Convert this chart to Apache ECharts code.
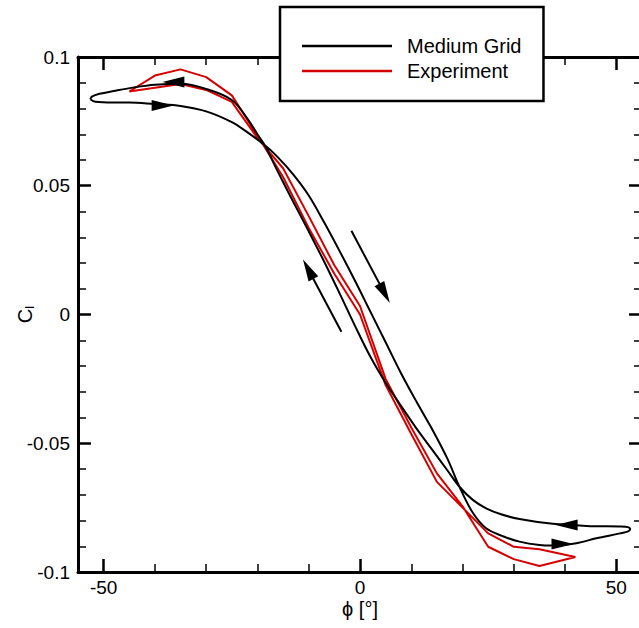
<!DOCTYPE html>
<html>
<head>
<meta charset="utf-8">
<script src="https://cdn.jsdelivr.net/npm/echarts@6/dist/echarts.min.js"></script>
<style>
html,body{margin:0;padding:0;background:#fff;}
#chart{width:639px;height:628px;}
</style>
</head>
<body>
<div id="chart"></div>
<script>
// ---- tick values ----
const phiMajorTicks = [-50, 0, 50];
const phiMinorTicks = [-40, -30, -20, -10, 10, 20, 30, 40];

// ---- Medium Grid hysteresis loop (phi [deg], Cl), traversal order ----
const mediumPhi = [
  -52.6, -51.6, -48.2, -45, -40, -35, -30, -25, -22, -18.6,
  -16, -13, -10, -7, -4, -1, 2, 5, 8, 11, 14, 17, 19.4,
  22, 24.6, 28, 31.1, 35, 37.6, 42.2, 46.1, 50.7, 52.3, 52.7,
  51.8, 50.7, 44.2, 37.6, 31.1, 27.5, 24.6, 22, 19.4,
  17, 14, 11, 8, 5, 2, -1, -4, -7, -10, -13, -16, -18.6,
  -20, -22, -25, -30, -35, -40, -44, -48, -50.8, -52.3, -52.6
];
const mediumCl = [
  0.0836, 0.0826, 0.0823, 0.0823, 0.0817, 0.0810, 0.0789, 0.0747, 0.0708, 0.0658,
  0.0610, 0.0543, 0.0462, 0.0358, 0.0247, 0.0132, 0.0012, -0.0108, -0.0228, -0.0338, -0.0443, -0.0558, -0.0669,
  -0.0770, -0.0830, -0.0862, -0.0882, -0.0895, -0.0897, -0.0888, -0.0869, -0.0850, -0.0842, -0.0833,
  -0.0824, -0.0823, -0.0821, -0.0813, -0.0794, -0.0776, -0.0753, -0.0720, -0.0669,
  -0.0604, -0.0523, -0.0442, -0.0355, -0.0265, -0.0163, -0.0043, 0.0083, 0.0206, 0.0323, 0.0437, 0.0554, 0.0658,
  0.0700, 0.0762, 0.0833, 0.0876, 0.0896, 0.0892, 0.0882, 0.0868, 0.0857, 0.0846, 0.0836
];

// ---- Experiment loop (phi [deg], Cl) ----
const expPhi = [
  -45, -40, -35, -30, -25, -20, -15, -10, -5, 0, 5, 10, 15, 20, 25, 30, 35, 42,
  35, 30, 25, 20, 15, 10, 5, 0, -5, -10, -15, -20, -25, -30, -35, -40, -45
];
const expCl = [
  0.0866, 0.0881, 0.0895, 0.0872, 0.0826, 0.0685, 0.0568, 0.0382, 0.0191, 0.0033, -0.0250, -0.0439, -0.0617, -0.0745, -0.0902, -0.0950, -0.0977, -0.0942,
  -0.0912, -0.0902, -0.0850, -0.0750, -0.0650, -0.0464, -0.0274, 0.0000, 0.0158, 0.0336, 0.0534, 0.0695, 0.0851, 0.0922, 0.0952, 0.0928, 0.0866
];

// ---- direction arrowheads on the loop and on the two free arrows ----
const arrowPhi = [-38.5, -36.4, 40.3, 39.5, 4.8, -10.1];
const arrowCl = [0.0812, 0.0903, -0.0817, -0.0891, 0.0082, 0.0176];
const arrowAngle = [-90, 90, 90, -90, -151.6, 28.2];

// free arrow shafts: [phiStart, clStart, phiEnd, clEnd]
const shaftDown = [-1.68, 0.0325, 4.8, 0.0082];
const shaftUp = [-3.63, -0.0067, -10.1, 0.0176];

const zip = (a, b) => a.map((v, i) => [v, b[i]]);

const FONT = 'Liberation Sans, Arial, Helvetica, sans-serif';
const BLACK = '#000000';
const RED = '#d40000';

function xAxisDef(position, ticks, major, withLabel) {
  return {
    type: 'value', position: position, min: -55, max: 55,
    axisLine: { show: major, onZero: false, lineStyle: { color: BLACK, width: 3 } },
    axisTick: { show: true, inside: true, length: major ? 13 : 8, customValues: ticks,
      lineStyle: { color: BLACK, width: major ? 2.5 : 1.5 } },
    axisLabel: withLabel ? { show: true, customValues: ticks, color: BLACK, fontSize: 19, fontFamily: FONT, margin: 6 } : { show: false },
    splitLine: { show: false }
  };
}
function yAxisDef(position, withLabel) {
  return {
    type: 'value', position: position, min: -0.1, max: 0.1, interval: 0.05,
    axisLine: { show: true, onZero: false, lineStyle: { color: BLACK, width: 3 } },
    axisTick: { show: true, inside: true, length: 13, lineStyle: { color: BLACK, width: 2.5 } },
    minorTick: { show: true, splitNumber: 5, length: 8, lineStyle: { color: BLACK, width: 1.5 } },
    axisLabel: withLabel ? { show: true, color: BLACK, fontSize: 19, fontFamily: FONT, margin: 8 } : { show: false },
    splitLine: { show: false }, minorSplitLine: { show: false }
  };
}

const xBottom = xAxisDef('bottom', phiMajorTicks, true, true);
xBottom.name = 'ϕ [°]';
xBottom.nameLocation = 'middle';
xBottom.nameGap = 27;
xBottom.nameMoveOverlap = false;
xBottom.nameTextStyle = { color: BLACK, fontSize: 20, fontFamily: FONT };

const yLeft = yAxisDef('left', true);
yLeft.name = '{c|C}{s|l}';
yLeft.nameLocation = 'middle';
yLeft.nameRotate = 90;
yLeft.nameGap = 42;
yLeft.nameMoveOverlap = false;
yLeft.nameTextStyle = {
  color: BLACK, fontFamily: FONT,
  rich: {
    c: { fontSize: 20, color: BLACK, fontFamily: FONT, lineHeight: 22, verticalAlign: 'middle' },
    s: { fontSize: 13, color: BLACK, fontFamily: FONT, verticalAlign: 'bottom', padding: [10, 0, 0, 0] }
  }
};

const chart = echarts.init(document.getElementById('chart'), null, { renderer: 'svg' });
chart.setOption({
  animation: false,
  backgroundColor: '#ffffff',
  textStyle: { fontFamily: FONT },
  grid: { left: 78, top: 57, width: 564, height: 515, containLabel: false, outerBoundsMode: 'none' },
  legend: {
    data: ['Medium Grid', 'Experiment'],
    orient: 'vertical', left: 280, top: 7,
    padding: [29, 22, 20, 22],
    backgroundColor: '#ffffff', borderColor: BLACK, borderWidth: 2.5, borderRadius: 0,
    icon: 'rect', itemWidth: 90, itemHeight: 2.5, itemGap: 5,
    itemStyle: { borderWidth: 0 },
    textStyle: { color: BLACK, fontSize: 20, fontFamily: FONT, padding: [0, 0, 0, 10] },
    selectedMode: false, z: 10
  },
  xAxis: [
    xBottom,
    xAxisDef('bottom', phiMinorTicks, false, false),
    xAxisDef('top', phiMajorTicks, true, false),
    xAxisDef('top', phiMinorTicks, false, false)
  ],
  yAxis: [yLeft, yAxisDef('right', false)],
  series: [
    {
      name: 'Medium Grid', type: 'line', color: BLACK,
      data: zip(mediumPhi, mediumCl), smooth: 0.35, showSymbol: false, symbol: 'none',
      lineStyle: { color: BLACK, width: 2 }, z: 3
    },
    {
      name: 'Experiment', type: 'line', color: RED,
      data: zip(expPhi, expCl), smooth: false, showSymbol: false, symbol: 'none',
      lineStyle: { color: RED, width: 2 }, z: 2
    },
    {
      name: 'arrowShafts', type: 'lines', coordinateSystem: 'cartesian2d', polyline: false,
      data: [
        { coords: [[shaftDown[0], shaftDown[1]], [shaftDown[2], shaftDown[3]]] },
        { coords: [[shaftUp[0], shaftUp[1]], [shaftUp[2], shaftUp[3]]] }
      ],
      symbol: ['none', 'none'],
      lineStyle: { color: BLACK, width: 2, opacity: 1, curveness: 0 }, z: 4
    },
    {
      name: 'arrowHeads', type: 'scatter',
      data: arrowPhi.map((p, i) => ({ value: [p, arrowCl[i]], symbolRotate: arrowAngle[i] })),
      symbol: 'triangle', symbolSize: [11, 22],
      itemStyle: { color: BLACK, opacity: 1 }, z: 5
    }
  ]
});
</script>
</body>
</html>
